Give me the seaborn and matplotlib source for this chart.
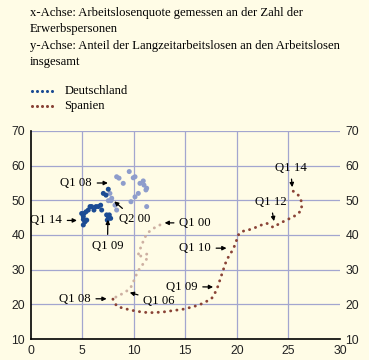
import matplotlib
matplotlib.use("Agg")
import matplotlib.pyplot as plt
from matplotlib.lines import Line2D
import seaborn as sns
import pandas as pd

# ---------------- data ----------------
# Deutschland, Q2 00 - Q1 08 (light)
de_early_x = [7.8, 7.7, 7.55, 7.87, 8.19, 8.35, 9.74, 11.26, 11.19, 11.26, 11.0, 10.93,
              10.61, 10.45, 10.13, 10.13, 9.96, 9.57, 8.99, 8.58, 8.35]
de_early_y = [49.9, 52.0, 49.9, 50.6, 48.6, 47.2, 49.6, 48.2, 53.0, 53.5, 54.4, 55.6,
              54.9, 52.0, 51.0, 56.8, 56.5, 58.3, 54.9, 56.4, 56.8]
# Deutschland, Q1 08 - Q1 14 (dark)
de_late_x = [7.54, 7.32, 7.06, 7.44, 7.54, 7.77, 7.64, 7.38, 6.90, 6.80, 6.57, 6.35,
             6.15, 5.93, 5.77, 5.60, 5.38, 5.18, 4.96, 5.12, 5.45, 5.28, 5.12, 5.12]
de_late_y = [53.2, 51.5, 52.0, 44.3, 45.3, 44.8, 45.8, 45.8, 47.2, 48.6, 48.2, 48.2,
             47.2, 48.2, 48.2, 47.2, 46.7, 46.2, 46.2, 45.3, 44.3, 43.8, 42.9, 44.5]

# Spanien, Q1 00 - Q1 08 (light)
es_early_x = [12.55, 11.97, 11.48, 11.1, 10.9, 10.7, 10.5, 10.42, 10.9, 11.29, 11.39,
              11.19, 10.9, 10.61, 10.32, 10.13, 9.93, 9.74, 9.45, 9.06, 8.67, 8.28, 7.99]
es_early_y = [42.9, 42.0, 40.9, 39.4, 38.0, 36.5, 35.1, 33.6, 34.2, 34.5, 33.6,
              32.8, 31.6, 30.5, 29.0, 27.6, 26.2, 25.0, 24.1, 23.3, 22.7, 22.1, 21.5]
# Spanien, Q1 08 - Q1 14 (dark)
es_late_x = [7.99, 8.35, 8.99, 9.96, 10.93, 11.9, 12.87, 13.84, 14.8, 15.78, 16.74,
             17.56, 18.04, 18.36, 18.68, 19.01, 19.5, 19.82, 20.14, 20.47, 21.43, 22.4,
             22.89, 23.53, 24.18, 25.15, 25.8, 26.28, 26.28, 25.95, 25.31]
es_late_y = [21.5, 19.5, 18.85, 18.2, 17.7, 17.6, 17.8, 18.2, 18.6, 19.3, 20.3,
             21.7, 24.1, 27.0, 29.9, 32.8, 35.2, 37.1, 40.0, 41.0, 41.7, 42.9,
             43.4, 42.2, 43.4, 44.8, 45.8, 47.2, 49.6, 51.5, 53.0]

x_ticks = [0, 5, 10, 15, 20, 25, 30]
y_ticks = [10, 20, 30, 40, 50, 60, 70]

header_lines = ["x-Achse: Arbeitslosenquote gemessen an der Zahl der",
                "Erwerbspersonen",
                "y-Achse: Anteil der Langzeitarbeitslosen an den Arbeitslosen",
                "insgesamt"]
legend_labels = ["Deutschland", "Spanien"]

# annotations: (text, text_xy, tip_xy, ha)
annotations = [
    ("Q1 08", (5.95, 55.0), (7.5, 55.0), "right"),
    ("Q1 14", (3.05, 44.2), (4.5, 44.2), "right"),
    ("Q1 09", (7.46, 36.9), (7.5, 44.4), "center"),
    ("Q2 00", (8.58, 44.6), (8.12, 49.7), "left"),
    ("Q1 00", (14.42, 43.5), (13.0, 43.5), "left"),
    ("Q1 12", (23.26, 49.6), (23.6, 44.0), "center"),
    ("Q1 14", (25.2, 59.4), (25.37, 53.8), "center"),
    ("Q1 10", (14.4, 36.2), (19.0, 36.2), "left"),
    ("Q1 09", (13.13, 25.1), (17.7, 25.0), "left"),
    ("Q1 06", (10.93, 21.0), (9.62, 23.4), "left"),
    ("Q1 08", (5.83, 21.6), (7.38, 21.6), "right"),
]

# ---------------- style ----------------
bg = "#FFFCE6"
grid_c = "#A3A6CF"
de_dark = "#1C4C94"
de_light = "#8E9DCC"
es_dark = "#8A4336"
es_light = "#CDB0A2"

sns.set_theme(style="white")
plt.rcParams["font.family"] = ["Liberation Serif", "DejaVu Serif"]

W, H = 369, 360
fig = plt.figure(figsize=(W / 100, H / 100), dpi=100, facecolor=bg)
ax = fig.add_axes([30.5 / W, 1 - 339 / H, (340 - 30.5) / W, (339 - 131) / H])
ax.set_facecolor(bg)
ax.set_xlim(0, 30)
ax.set_ylim(10, 70)

for yv in y_ticks[1:]:
    ax.axhline(yv, color=grid_c, lw=0.9, zorder=0)
for xv in x_ticks[1:-1]:
    ax.axvline(xv, color=grid_c, lw=0.9, zorder=0)

dot_style = (0, (0.05, 2.1))
df_es1 = pd.DataFrame({"x": es_early_x, "y": es_early_y})
df_es2 = pd.DataFrame({"x": es_late_x, "y": es_late_y})
sns.lineplot(data=df_es1, x="x", y="y", sort=False, estimator=None, ax=ax,
             color=es_light, lw=2.1, zorder=3)
sns.lineplot(data=df_es2, x="x", y="y", sort=False, estimator=None, ax=ax,
             color=es_dark, lw=2.1, zorder=3)
for line in ax.get_lines()[-2:]:
    line.set_linestyle(dot_style)
    line.set_dash_capstyle("round")

df_de1 = pd.DataFrame({"x": de_early_x, "y": de_early_y})
df_de2 = pd.DataFrame({"x": de_late_x, "y": de_late_y})
sns.scatterplot(data=df_de1, x="x", y="y", ax=ax, color=de_light, s=13,
                edgecolor="none", zorder=4)
sns.scatterplot(data=df_de2, x="x", y="y", ax=ax, color=de_dark, s=13,
                edgecolor="none", zorder=5)

for txt, txy, tip, ha in annotations:
    ax.annotate(txt, xy=tip, xytext=txy, ha=ha, va="center", fontsize=9.2,
                color="black", zorder=6,
                arrowprops=dict(arrowstyle="-|>", color="black", lw=0.9,
                                mutation_scale=6, shrinkA=1.5, shrinkB=0))

ax.set_xlabel("")
ax.set_ylabel("")
ax.set_xticks(x_ticks)
ax.set_yticks(y_ticks)
tick_font = dict(family=["Liberation Sans", "DejaVu Sans"], size=8.8)
ax.set_xticklabels([str(v) for v in x_ticks], **tick_font, color="#222222")
ax.set_yticklabels([str(v) for v in y_ticks], **tick_font, color="#222222")
ax.tick_params(axis="x", direction="inout", length=5, width=1, color="black", pad=1.5)
ax.tick_params(axis="y", length=0, left=False, right=False,
               labelleft=True, labelright=True, pad=4)
for s in ["top", "right"]:
    ax.spines[s].set_visible(False)
for s in ["left", "bottom"]:
    ax.spines[s].set_color("black")
    ax.spines[s].set_linewidth(1.2)

# header text
for i, t in enumerate(header_lines):
    fig.text(30 / W, 1 - (13 + 16.4 * i) / H, t, ha="left", va="center",
             fontsize=9.1, color="black")

# legend
leg_colors = [de_dark, es_dark]
leg_y = [90.5, 105.5]
for lab, c, yy in zip(legend_labels, leg_colors, leg_y):
    xs = [(32 + 5 * i) / W for i in range(5)]
    fig.add_artist(Line2D(xs, [1 - yy / H] * 5, ls="none", marker="o", ms=2.2,
                          color=c, mec="none", transform=fig.transFigure))
    fig.text(64.5 / W, 1 - yy / H, lab, ha="left", va="center", fontsize=9.1, color="black")

fig.savefig("out.png", dpi=100, facecolor=bg)
